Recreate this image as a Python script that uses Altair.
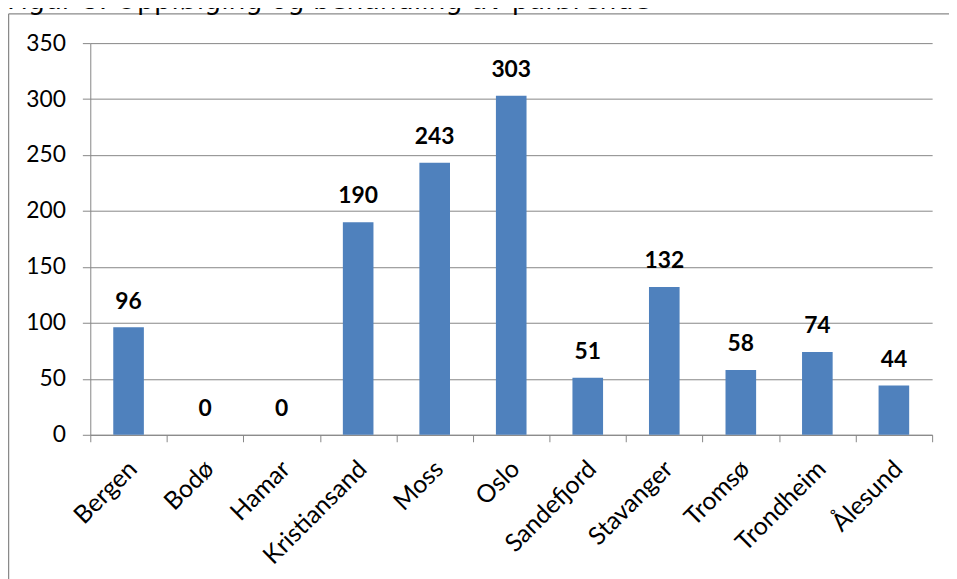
import altair as alt
import pandas as pd

# ---- data ----
cities = ["Bergen", "Bodø", "Hamar", "Kristiansand", "Moss", "Oslo",
          "Sandefjord", "Stavanger", "Tromsø", "Trondheim", "Ålesund"]
values = [96, 0, 0, 190, 243, 303, 51, 132, 58, 74, 44]
y_ticks = [0, 50, 100, 150, 200, 250, 300, 350]
title_text = "Figur 8: Oppfølging og behandling av pårørende"

df = pd.DataFrame({"by": cities, "antall": values})
one = pd.DataFrame({"t": [title_text]})

GRAY = "#868686"
BAR = "#4F81BD"
FONT = "Lato"

x_enc = alt.X(
    "by:N", sort=cities, title=None,
    scale=alt.Scale(paddingInner=0, paddingOuter=0),
    axis=alt.Axis(
        labelAngle=-45, labelAlign="right", labelBaseline="middle",
        labelFont=FONT, labelFontSize=25, labelColor="black",
        labelPadding=23, labelOffset=4,
        tickBand="extent", tickSize=7, tickColor=GRAY, tickWidth=1,
        domainColor=GRAY, domainWidth=1, grid=False,
    ),
)
y_enc = alt.Y(
    "antall:Q", title=None,
    scale=alt.Scale(domain=[0, 350], nice=False),
    axis=alt.Axis(
        values=y_ticks, labelFont=FONT, labelFontSize=23, labelColor="black",
        labelPadding=17, tickSize=8, tickColor=GRAY, tickWidth=1,
        domainColor=GRAY, domainWidth=1,
        grid=True, gridColor=GRAY, gridWidth=1,
    ),
)

bars = alt.Chart(df).mark_bar(color=BAR, width=alt.RelativeBandSize(0.4)).encode(
    x=x_enc, y=y_enc
)

labels = alt.Chart(df).mark_text(
    font=FONT, fontWeight="bold", fontSize=23, baseline="alphabetic",
    dy=-19, color="black",
).encode(
    x=alt.X("by:N", sort=cities),
    y=alt.Y("antall:Q"),
    text="antall:Q",
)

# decorative frame of the original figure (partially visible)
frame_left = alt.Chart(one).mark_rule(color="#8a8a8a", strokeWidth=1.5).encode(
    x=alt.value(-82.5), y=alt.value(-29.5), y2=alt.value(560)
)
frame_top = alt.Chart(one).mark_rule(color="#8a8a8a", strokeWidth=1.5).encode(
    x=alt.value(-82.5), x2=alt.value(866), y=alt.value(-29.5)
)
title = alt.Chart(one).mark_text(
    font="DejaVu Sans", fontSize=27, align="left", baseline="alphabetic",
    color="black",
).encode(x=alt.value(-84), y=alt.value(-34), text="t:N")

chart = alt.layer(frame_left, frame_top, title, bars, labels).properties(
    width=849, height=395,
    padding={"left": 83, "top": 33, "right": 17, "bottom": 143},
    autosize=alt.AutoSizeParams(type="none"),
    background="white",
).configure_view(stroke="transparent")

chart.save("out.html", embed_options={"renderer": "svg", "actions": False})
